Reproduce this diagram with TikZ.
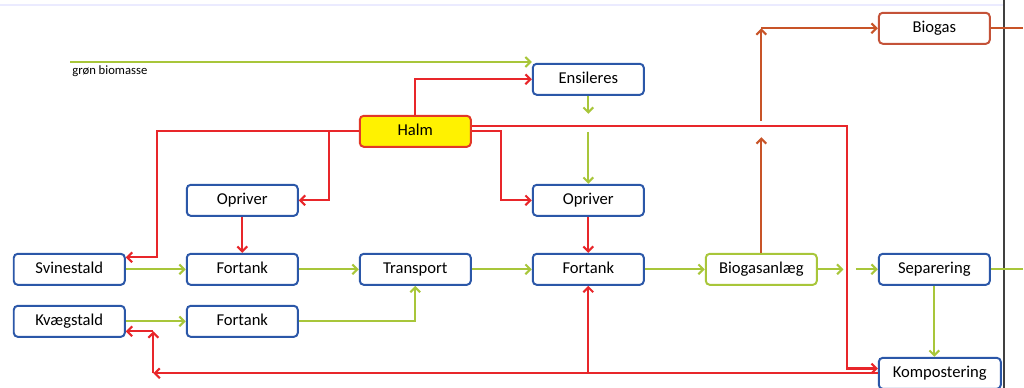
\documentclass[tikz,border=0pt]{standalone}
\usepackage{fontspec}
\setmainfont{Carlito}
\usepackage{tikz}
\usetikzlibrary{matrix}
\usetikzlibrary{positioning,arrows.meta}
\definecolor{boxblue}{RGB}{43,87,168}
\definecolor{flowred}{RGB}{232,38,42}
\definecolor{flowgreen}{RGB}{168,198,58}
\definecolor{floworange}{RGB}{200,84,40}
\definecolor{halmyellow}{RGB}{255,242,0}
\definecolor{halmred}{RGB}{226,56,40}
\definecolor{gasbrown}{RGB}{196,82,56}

\begin{document}
\begin{tikzpicture}[
		>={Straight Barb[length=3.5pt,width=7pt]},
		box/.style={draw=boxblue,line width=1.4pt,rounded corners=0.1cm,fill=white,
			minimum width=2.776cm,minimum height=0.776cm,inner sep=2pt,anchor=center,
			text height=7.8pt,text depth=2.4pt,
			font=\fontsize{11.8}{13}\selectfont},
		redline/.style={draw=flowred,line width=1.5pt},
		greenline/.style={draw=flowgreen,line width=1.5pt},
		orangeline/.style={draw=floworange,line width=1.5pt}]
		\useasboundingbox (0,0) rectangle (25.6,-9.7);
		\draw[blue!8,line width=1pt] (0,-0.125) -- (25.1,-0.125);
		\draw[black!75,line width=1pt] (25.1,0) -- (25.1,-9.7);
		\matrix (m) [matrix of nodes,nodes={box},column sep=1.5cm,row sep=0.475cm,
			inner sep=0pt,matrix anchor=north west] at (0.3125,-0.2875)
		{
		 & & & & & |[anchor=west,draw=gasbrown]| Biogas \\[-0.025cm]
		 & & & Ensileres & & \\
		 & & |[fill=halmyellow,draw=halmred]| Halm & & & \\[0.425cm]
		 & Opriver & & Opriver & & \\[0.425cm]
		Svinestald & Fortank & Transport & Fortank & |[draw=flowgreen]| Biogasanlæg & |[anchor=west]| Separering \\
		Kvægstald & Fortank & & & & \\
		 & & & & & |[anchor=west,minimum width=3.05cm]| Kompostering \\};

		\coordinate (gb) at (1.75,-1.55);
		\node[anchor=north west,inner sep=1.5pt,yshift=-1pt,font=\fontsize{9}{10}\selectfont] (gbl) at (gb) {grøn biomasse};
		\coordinate (sv) at ([xshift=0.79cm,yshift=0.3cm]m-5-1.east);
		\coordinate (op1) at ([xshift=0.76cm]m-4-2.east);
		\coordinate (op2) at ([xshift=-0.76cm]m-4-4.west);
		\coordinate (hk) at ([yshift=0.125cm]m-3-3.east);
		\coordinate (kp) at ([yshift=0.12cm]m-7-6.west);
		\coordinate (ks) at ([xshift=0.74cm]m-5-5.east);
		\coordinate (rt) at ([xshift=0.69cm,yshift=-0.25cm]m-6-1.east);
		\coordinate (rb) at (rt |- m-7-6.west);
		\coordinate (bg1) at ([yshift=2.89cm]m-5-5.north);
		\coordinate (bg2) at ([yshift=3.29cm]m-5-5.north);
		\coordinate (bg3) at (m-5-5.north |- m-1-6.west);
		\coordinate (bo) at ([xshift=0.8cm]m-1-6.east);
		\coordinate (en1) at ([yshift=-0.45cm]m-2-4.south);
		\coordinate (en2) at ([yshift=-0.9cm]m-2-4.south);
		\coordinate (bs1) at ([xshift=0.64cm]m-5-5.east);
		\coordinate (bs2) at ([xshift=-0.55cm]m-5-6.west);
		\coordinate (so) at ([xshift=0.8cm]m-5-6.east);

		\path[->]
		(gb) edge[greenline] (gb -| m-2-4.west)
		(m-2-4.south) edge[greenline] (en1)
		(en2) edge[greenline] (m-4-4.north)
		(m-5-1) edge[greenline] (m-5-2)
		(m-5-2) edge[greenline] (m-5-3)
		(m-5-3) edge[greenline] (m-5-4)
		(m-5-4) edge[greenline] (m-5-5)
		(m-5-5.east) edge[greenline] (bs1)
		(bs2) edge[greenline] (m-5-6.west)
		(m-5-6.south) edge[greenline] (m-5-6.south |- m-7-6.north)
		(m-6-1) edge[greenline] (m-6-2)
		(m-4-2) edge[redline] (m-5-2)
		(m-4-4) edge[redline] (m-5-4)
		(m-7-6.west) edge[redline] (rb)
		(rb) edge[redline] (rt)
		(rt) edge[redline] (rt -| m-6-1.east)
		(m-5-4.south |- rb) edge[redline] (m-5-4.south)
		(m-5-5.north) edge[orangeline] (bg1)
		(bg2) edge[orangeline] (bg3)
		(bg3) edge[orangeline] (m-1-6.west);
		\draw[greenline] (m-5-6.east) -- (so);
		\draw[orangeline] (m-1-6.east) -- (bo);
		\draw[greenline,->] (m-6-2.east) -| (m-5-3.south);
		\draw[redline,->] (m-3-3.north) |- (m-2-4.west);
		\draw[redline,->] (m-3-3.west) -| (sv) -- (sv -| m-5-1.east);
		\draw[redline,->] (op1 |- m-3-3.west) -- (op1) -- (m-4-2.east);
		\draw[redline,->] (m-3-3.east) -| (op2) -- (m-4-4.west);
		\draw[redline,->] (hk) -| (ks |- kp) -- (kp);

	\end{tikzpicture}
\end{document}
